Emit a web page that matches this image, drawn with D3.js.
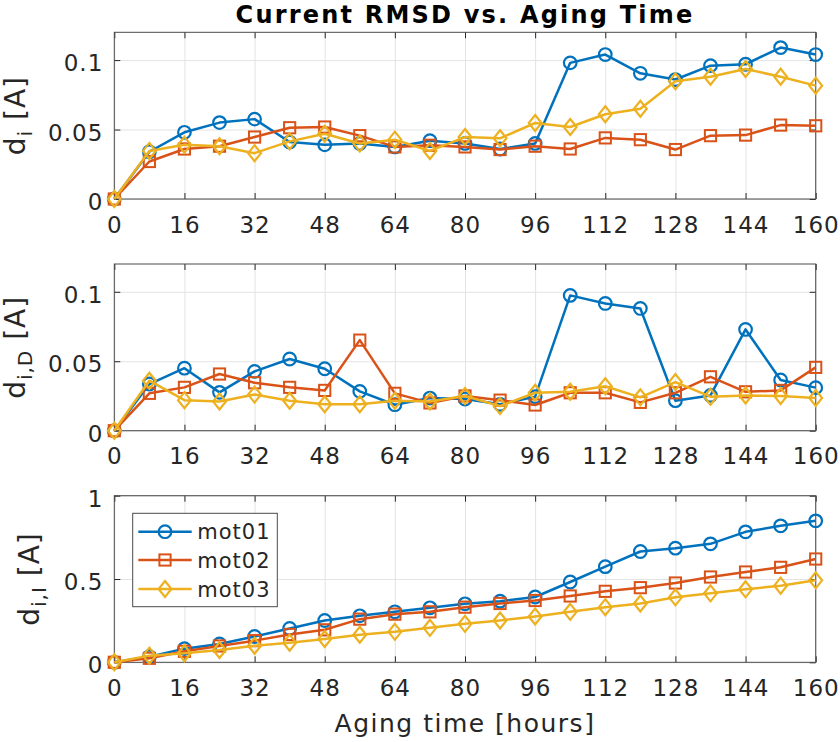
<!DOCTYPE html>
<html><head><meta charset="utf-8">
<script src="https://cdn.jsdelivr.net/npm/d3@7"></script>
<style>
body{margin:0;background:#fff;}
svg{display:block;font-family:"DejaVu Sans",sans-serif;}
</style></head>
<body><svg id="c" width="840" height="742"></svg>
<script>
// ---- data ----
const hours = [0,8,16,24,32,40,48,56,64,72,80,88,96,104,112,120,128,136,144,152,160];
const xTicks = [0,16,32,48,64,80,96,112,128,144,160];
const seriesNames = ["mot01","mot02","mot03"];
const colors = ["#0072BD","#D95319","#EDB120"];
const markers = ["circle","square","diamond"];

const mot01_di = [0,0.034,0.048,0.055,0.0575,0.041,0.039,0.040,0.0375,0.042,0.040,0.036,0.040,0.098,0.104,0.0905,0.086,0.096,0.097,0.109,0.104];
const mot02_di = [0,0.027,0.036,0.038,0.0446,0.0513,0.0518,0.0456,0.0375,0.0387,0.0375,0.0356,0.038,0.036,0.044,0.0427,0.0356,0.0456,0.046,0.0532,0.0527];
const mot03_di = [0,0.0346,0.039,0.038,0.033,0.0415,0.047,0.040,0.0427,0.0346,0.0446,0.0437,0.0547,0.0518,0.061,0.065,0.0847,0.088,0.0936,0.088,0.0816];

const mot01_diD = [0,0.0336,0.045,0.0276,0.0427,0.0516,0.0446,0.0283,0.0187,0.0235,0.0228,0.019,0.0245,0.0974,0.0916,0.088,0.0216,0.0254,0.0729,0.0365,0.031];
const mot02_diD = [0,0.0269,0.0312,0.0408,0.0345,0.0312,0.029,0.0652,0.0269,0.020,0.025,0.022,0.0185,0.0273,0.0273,0.0204,0.0273,0.0388,0.028,0.029,0.0456];
const mot03_diD = [0,0.036,0.022,0.021,0.026,0.0216,0.019,0.019,0.0216,0.021,0.025,0.0177,0.0273,0.028,0.032,0.024,0.035,0.0245,0.0254,0.025,0.0235];

const mot01_diI = [0,0.034,0.082,0.11,0.155,0.203,0.251,0.279,0.303,0.327,0.351,0.367,0.392,0.482,0.574,0.665,0.685,0.711,0.783,0.819,0.849];
const mot02_diI = [0,0.024,0.066,0.098,0.13,0.167,0.195,0.259,0.289,0.303,0.331,0.353,0.371,0.398,0.426,0.448,0.476,0.512,0.542,0.570,0.620];
const mot03_diI = [0,0.04,0.054,0.074,0.10,0.118,0.14,0.165,0.183,0.207,0.231,0.251,0.275,0.303,0.331,0.353,0.390,0.414,0.438,0.46,0.492];

const yTicksSmall = [0,0.05,0.1];
const yTickLabelsSmall = ["0","0.05","0.1"];
const yTicksBig = [0,0.5,1];
const yTickLabelsBig = ["0","0.5","1"];

const titleText = "Current RMSD vs. Aging Time";
const xLabelText = "Aging time [hours]";

// ---- layout ----
const svg = d3.select("#c");
const L = 114.3, R = 815.7;
const panels = [
  {top:32.3, bottom:199, ymax:0.12, ticks:yTicksSmall, labels:yTickLabelsSmall, data:[mot01_di,mot02_di,mot03_di], sub:"i", labX:25},
  {top:264, bottom:430.7, ymax:0.12, ticks:yTicksSmall, labels:yTickLabelsSmall, data:[mot01_diD,mot02_diD,mot03_diD], sub:"i,D", labX:25},
  {top:495.7, bottom:662.3, ymax:1, ticks:yTicksBig, labels:yTickLabelsBig, data:[mot01_diI,mot02_diI,mot03_diI], sub:"i,I", labX:39}
];
const x = d3.scaleLinear().domain([0,160]).range([L,R]);
const axisCol = "#262626";

function drawMarker(g, type, cx, cy, col){
  if(type==="circle"){
    g.append("circle").attr("cx",cx).attr("cy",cy).attr("r",6.3)
     .attr("fill","none").attr("stroke",col).attr("stroke-width",2.2);
  } else if(type==="square"){
    const s=5.6;
    g.append("rect").attr("x",cx-s).attr("y",cy-s).attr("width",2*s).attr("height",2*s)
     .attr("fill","none").attr("stroke",col).attr("stroke-width",2);
  } else {
    const s=8;
    g.append("path").attr("d",`M${cx},${cy-s}L${cx+s*0.8},${cy}L${cx},${cy+s}L${cx-s*0.8},${cy}Z`)
     .attr("fill","none").attr("stroke",col).attr("stroke-width",2.2);
  }
}

panels.forEach((p)=>{
  const y = d3.scaleLinear().domain([0,p.ymax]).range([p.bottom,p.top]);
  const h = p.bottom-p.top, w = R-L;
  const g = svg.append("g");
  // grid
  g.append("g").attr("transform",`translate(0,${p.bottom})`)
    .call(d3.axisBottom(x).tickValues(xTicks).tickSize(-h).tickFormat(""))
    .call(a=>{a.select(".domain").remove();a.selectAll("line").attr("stroke","#e3e3e3").attr("stroke-width",1);});
  g.append("g").attr("transform",`translate(${L},0)`)
    .call(d3.axisLeft(y).tickValues(p.ticks).tickSize(-w).tickFormat(""))
    .call(a=>{a.select(".domain").remove();a.selectAll("line").attr("stroke","#e3e3e3").attr("stroke-width",1);});
  // ticks inward (bottom/top/left/right)
  const tl = 6;
  const mkTicks = (axis, tr)=> g.append("g").attr("transform",tr).call(axis)
     .call(a=>{a.select(".domain").remove();a.selectAll("line").attr("stroke",axisCol).attr("stroke-width",1);a.selectAll("text").remove();});
  mkTicks(d3.axisTop(x).tickValues(xTicks).tickSize(tl), `translate(0,${p.bottom})`);
  mkTicks(d3.axisBottom(x).tickValues(xTicks).tickSize(tl), `translate(0,${p.top})`);
  mkTicks(d3.axisRight(y).tickValues(p.ticks).tickSize(tl), `translate(${L},0)`);
  mkTicks(d3.axisLeft(y).tickValues(p.ticks).tickSize(tl), `translate(${R},0)`);
  // box
  g.append("rect").attr("x",L).attr("y",p.top).attr("width",w).attr("height",h)
    .attr("fill","none").attr("stroke","#4a4a4a").attr("stroke-width",1);
  // tick labels
  g.append("g").attr("transform",`translate(0,${p.bottom})`)
    .call(d3.axisBottom(x).tickValues(xTicks).tickSize(0).tickPadding(0))
    .call(a=>{a.select(".domain").remove();
      a.selectAll("text").attr("y",33.5).attr("dy",null).attr("fill",axisCol)
       .attr("font-size",23).attr("font-family","DejaVu Sans").attr("letter-spacing","1px");});
  g.append("g").attr("transform",`translate(${L},0)`)
    .call(d3.axisLeft(y).tickValues(p.ticks).tickSize(0).tickPadding(11).tickFormat((d,i)=>p.labels[i]))
    .call(a=>{a.select(".domain").remove();
      a.selectAll("text").attr("dy","0.46em").attr("fill",axisCol)
       .attr("font-size",23).attr("font-family","DejaVu Sans").attr("letter-spacing","1px");});
  // y label
  const cy = (p.top+p.bottom)/2;
  const t = g.append("text").attr("transform",`translate(${p.labX},${cy}) rotate(-90)`)
    .attr("text-anchor","middle").attr("fill",axisCol).attr("font-size",28).attr("letter-spacing","1px");
  t.append("tspan").text("d");
  t.append("tspan").attr("font-size",20).attr("dy",7).text(p.sub);
  t.append("tspan").attr("dy",-7).text(" [A]");
  // series
  p.data.forEach((vals,si)=>{
    const sg = g.append("g");
    const line = d3.line().x((d,i)=>x(hours[i])).y(d=>y(d));
    sg.append("path").attr("d",line(vals)).attr("fill","none").attr("stroke",colors[si])
      .attr("stroke-width",2.5).attr("stroke-linejoin","round");
    vals.forEach((v,i)=>drawMarker(sg, markers[si], x(hours[i]), y(v), colors[si]));
  });
});

// title
svg.append("text").attr("x",(L+R)/2).attr("y",23).attr("text-anchor","middle")
  .attr("font-size",24).attr("font-weight","bold").attr("letter-spacing","2.2px").attr("fill","#000").text(titleText);
// x label
svg.append("text").attr("x",(L+R)/2).attr("y",731.5).attr("text-anchor","middle")
  .attr("font-size",25).attr("letter-spacing","1.5px").attr("fill",axisCol).text(xLabelText);

// legend
const lg = svg.append("g");
lg.append("rect").attr("x",132.7).attr("y",513.3).attr("width",144.6).attr("height",93.4)
  .attr("fill","#fff").attr("stroke","#4a4a4a").attr("stroke-width",1);
const legRowsY = [531.7,560,589];
seriesNames.forEach((nm,i)=>{
  const yy = legRowsY[i];
  lg.append("line").attr("x1",138.3).attr("x2",191.7).attr("y1",yy).attr("y2",yy)
    .attr("stroke",colors[i]).attr("stroke-width",2.5);
  drawMarker(lg, markers[i], 165, yy, colors[i]);
  lg.append("text").attr("x",197.3).attr("y",yy).attr("dy","0.36em").attr("font-size",21)
    .attr("letter-spacing","1px").attr("fill",axisCol).text(nm);
});
</script></body></html>
